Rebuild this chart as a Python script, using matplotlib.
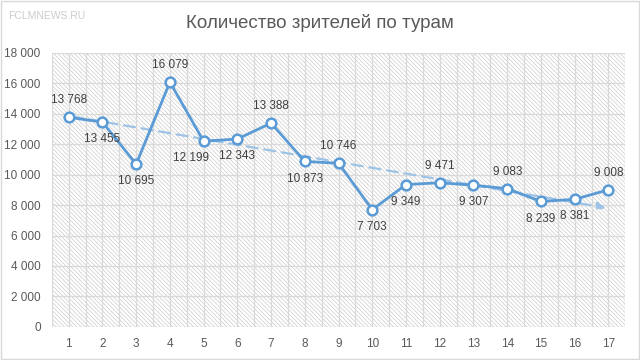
import numpy as np
import matplotlib.pyplot as plt
from matplotlib.patches import Rectangle

rounds = list(range(1, 18))
viewers = [13768, 13455, 10695, 16079, 12199, 12343, 13388, 10873, 10746,
           7703, 9349, 9471, 9307, 9083, 8239, 8381, 9008]
# label above (1) or below (-1) the point
label_side = [1, -1, -1, 1, -1, -1, 1, -1, 1, -1, -1, 1, -1, 1, -1, -1, 1]
label_dx = [0, 0, 0, 0, -9, 0, 0, 0, 0, 0, 0, 0, 0, 0, 0, 0, 0]

blue = "#5B9BD5"
grey = "#595959"

plt.rcParams["font.family"] = ["Liberation Sans", "DejaVu Sans"]
plt.rcParams["hatch.linewidth"] = 0.5
fig = plt.figure(figsize=(6.4, 3.6), dpi=100)
ax = fig.add_axes([0.081, 0.092, 0.896, 0.761])

# hatched plot area
bg = Rectangle((0, 0), 1, 1, transform=ax.transAxes, facecolor="white",
               edgecolor="#cccccc", hatch="\\" * 8, lw=0, zorder=0)
ax.add_patch(bg)

ax.set_xlim(0.5, 17.5)
ax.set_ylim(0, 18000)
ax.set_yticks(np.arange(0, 18001, 2000))
ax.set_yticklabels([f"{v:,}".replace(",", " ") for v in range(0, 18001, 2000)])
ax.set_xticks(rounds)
for x in np.arange(0.5, 17.6, 0.5):
    ax.axvline(x, color="#d9d9d9", lw=0.9, zorder=1)
for y in range(2000, 18001, 2000):
    ax.axhline(y, color="#d9d9d9", lw=0.9, zorder=1)
ax.axhline(0, color="#d9d9d9", lw=1, zorder=1)

# trend line
k, b = np.polyfit(rounds, viewers, 1)
ax.annotate("", xy=(17, k * 17 + b), xytext=(1, k * 1 + b),
            arrowprops=dict(arrowstyle="-|>", color="#9DC3E6", lw=1.6,
                            linestyle=(0, (5, 3)), mutation_scale=12),
            zorder=2)

ax.plot(rounds, viewers, color=blue, lw=2, marker="o", markersize=7,
        markerfacecolor="white", markeredgecolor=blue, markeredgewidth=1.8,
        zorder=3)

for x, v, s, dx in zip(rounds, viewers, label_side, label_dx):
    txt = f"{v:,}".replace(",", " ")
    ax.annotate(txt, (x, v), xytext=(dx, 8 * s), textcoords="offset points",
                ha="center", va="bottom" if s > 0 else "top",
                fontsize=8.5, color="#404040", zorder=4)

for sp in ax.spines.values():
    sp.set_visible(False)
ax.tick_params(length=0, labelsize=8.5, colors=grey, pad=8)

fig.text(0.5, 0.935, "Количество зрителей по турам", ha="center",
         va="center", fontsize=13.5, color=grey)
fig.text(0.013, 0.955, "FCLMNEWS.RU", ha="left", va="center", fontsize=7.5,
         color="#cccccc")
fig.add_artist(Rectangle((0.002, 0.003), 0.996, 0.994, transform=fig.transFigure,
                         fill=False, edgecolor="#d9d9d9", lw=1))

fig.savefig("out.png", dpi=100)
